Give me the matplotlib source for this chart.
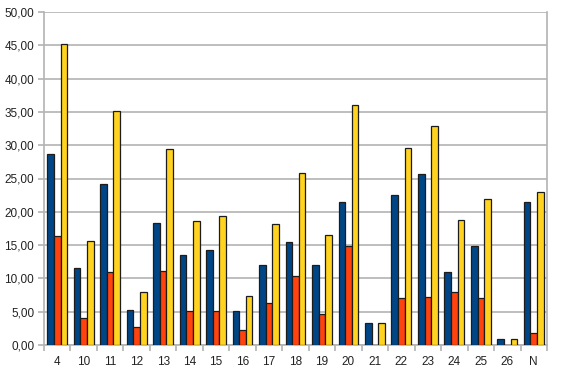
import numpy as np
import matplotlib.pyplot as plt
from matplotlib.ticker import FuncFormatter

categories = ["4", "10", "11", "12", "13", "14", "15", "16", "17", "18",
              "19", "20", "21", "22", "23", "24", "25", "26", "N"]

# values
blue = [28.7, 11.6, 24.2, 5.3, 18.3, 13.5, 14.2, 5.15, 12.0, 15.5,
        12.0, 21.4, 3.35, 22.5, 25.7, 10.9, 14.9, 0.9, 21.5]
red = [16.4, 4.1, 11.0, 2.7, 11.1, 5.1, 5.15, 2.25, 6.25, 10.4,
       4.6, 14.8, 0.0, 7.1, 7.25, 8.0, 7.1, 0.0, 1.75]
yellow = [45.2, 15.6, 35.1, 8.0, 29.4, 18.6, 19.3, 7.4, 18.2, 25.8,
          16.5, 36.0, 3.35, 29.6, 32.9, 18.8, 21.9, 0.9, 23.0]

colors = ["#004586", "#ff420e", "#ffd320"]

fig = plt.figure(figsize=(5.61, 3.76), dpi=100)
ax = fig.add_axes([44 / 561, 31 / 376, 503 / 561, 333 / 376])

x = np.arange(len(categories))
w = 0.25
for i, vals in enumerate([blue, red, yellow]):
    ax.bar(x + (i - 1) * w, vals, width=w, color=colors[i],
           edgecolor="#1c1c1c", linewidth=0.9, zorder=3)

ax.set_xlim(-0.5, len(categories) - 0.5)
ax.set_ylim(0, 50)
ax.set_yticks(np.arange(0, 51, 5))
ax.yaxis.set_major_formatter(FuncFormatter(lambda v, p: f"{v:.2f}".replace(".", ",")))
ax.grid(axis="y", color="#b3b3b3", linewidth=1.2, zorder=0)

ax.set_xticks(x)
ax.set_xticklabels(categories)
ax.set_xticks(np.arange(-0.5, len(categories), 1), minor=True)
ax.tick_params(axis="x", which="major", length=0, pad=8, labelsize=8.5, colors="#222222")
ax.tick_params(axis="x", which="minor", length=4, color="#b3b3b3", width=1.2)
ax.tick_params(axis="y", length=4, color="#b3b3b3", width=1.2, labelsize=8.5,
               labelcolor="#222222", pad=3)

for s in ["left", "right", "bottom"]:
    ax.spines[s].set_color("#b3b3b3")
    ax.spines[s].set_linewidth(1.2)
ax.spines["top"].set_visible(False)

for lab in ax.get_xticklabels() + ax.get_yticklabels():
    lab.set_fontfamily("Liberation Sans")

fig.savefig("out.png", dpi=100)
